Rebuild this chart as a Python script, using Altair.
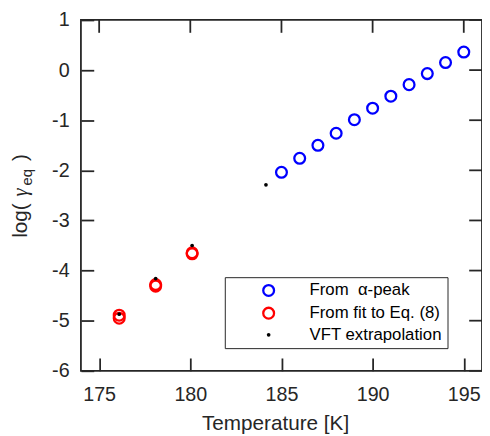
import altair as alt
import pandas as pd

# ---- data ----
alpha_T = [185, 186, 187, 188, 189, 190, 191, 192, 193, 194, 195]
alpha_logg = [-2.04, -1.76, -1.50, -1.26, -0.99, -0.76, -0.52, -0.29, -0.07, 0.15, 0.36]
fit_T = [176.1, 176.1, 178.1, 178.1, 180.1, 180.1]
fit_logg = [-4.89, -4.95, -4.28, -4.31, -3.645, -3.665]
vft_T = [176.1, 178.1, 180.1, 184.15]
vft_logg = [-4.87, -4.16, -3.50, -2.29]
series_names = ["From\u00a0 \u03b1-peak", "From fit to Eq. (8)", "VFT extrapolation"]
x_ticks = [175, 180, 185, 190, 195]
y_ticks = [-6, -5, -4, -3, -2, -1, 0, 1]

rows = []
for t, v in zip(alpha_T, alpha_logg):
    rows.append({"T": t, "g": v, "s": series_names[0]})
for t, v in zip(fit_T, fit_logg):
    rows.append({"T": t, "g": v, "s": series_names[1]})
for t, v in zip(vft_T, vft_logg):
    rows.append({"T": t, "g": v, "s": series_names[2]})
df = pd.DataFrame(rows)
xt_df = pd.DataFrame({"T": [float(v) for v in x_ticks]})
yt_df = pd.DataFrame({"g": [float(v) for v in y_ticks]})

AX = "#262626"
FONT = "Liberation Sans"
TICK = 13
LW = 1.8
W, H = 407, 356

xs = alt.Scale(domain=[174, 196], nice=False, zero=False)
ys = alt.Scale(domain=[-6, 1], nice=False, zero=False)

leg = alt.Legend(
    title=None, orient="none", legendX=146, legendY=261, direction="vertical",
    padding=5, strokeColor=AX, fillColor="white",
    labelFont=FONT, labelFontSize=17, labelColor="black", labelLimit=400,
    symbolType="circle", symbolStrokeWidth=2.3, rowPadding=2,
    symbolOffset=31, labelOffset=33,
)

x_lab = alt.Axis(values=x_ticks, orient="bottom", ticks=True, tickSize=TICK, tickColor=AX,
                 tickWidth=LW, offset=-TICK, domain=False, grid=False,
                 labelFont=FONT, labelFontSize=20, labelColor=AX, labelPadding=14,
                 title="Temperature [K]", titleFont=FONT, titleFontSize=21, titleFontWeight="normal",
                 titleColor=AX, titleX=197, titleY=60 + TICK, titleBaseline="alphabetic")
y_lab = alt.Axis(values=y_ticks, orient="left", ticks=True, tickSize=TICK, tickColor=AX,
                 tickWidth=LW, offset=-TICK, domain=False, grid=False,
                 labelFont=FONT, labelFontSize=20, labelColor=AX, labelPadding=12,
                 labelExpr="toString(datum.value)", title=None)

points = alt.Chart(df).mark_point(shape="circle", strokeWidth=2.3, opacity=1).encode(
    x=alt.X("T:Q", scale=xs, axis=x_lab),
    y=alt.Y("g:Q", scale=ys, axis=y_lab),
    stroke=alt.Stroke("s:N", scale=alt.Scale(domain=series_names, range=["#0000ff", "#ff0000", "transparent"]), legend=leg),
    fill=alt.Fill("s:N", scale=alt.Scale(domain=series_names, range=["transparent", "transparent", "#000000"]), legend=leg),
    size=alt.Size("s:N", scale=alt.Scale(type="ordinal", domain=series_names, range=[120, 120, 14]), legend=leg),
)

# top and right inward ticks drawn through the shared scales
top_ticks = alt.Chart(xt_df).mark_rule(color=AX, strokeWidth=LW).encode(
    x=alt.X("T:Q", scale=xs, axis=x_lab), y=alt.value(0), y2=alt.value(TICK))
right_ticks = alt.Chart(yt_df).mark_rule(color=AX, strokeWidth=LW).encode(
    y=alt.Y("g:Q", scale=ys, axis=y_lab), x=alt.value(W - TICK), x2=alt.value(W))

one = pd.DataFrame({"k": [0]})
def ytext(txt, x, y, size, style="normal", font=FONT):
    return alt.Chart(one).mark_text(text=txt, angle=270, align="left", baseline="middle",
                                    font=font, fontSize=size, fontStyle=style, color=AX).encode(
        x=alt.value(x), y=alt.value(y))

ylabel = [
    ytext("log(", -61, 221, 21),
    ytext("\u03b3", -61, 179, 21, "italic", "Liberation Serif"),
    ytext("eq", -55, 168, 15),
    ytext(")", -61, 143, 21),
]

chart = alt.layer(points, top_ticks, right_ticks, *ylabel).properties(
    width=W, height=H,
    autosize=alt.AutoSizeParams(type="none"),
    padding={"left": 74, "top": 9, "right": 0, "bottom": 63},
).configure_view(stroke=AX, strokeWidth=LW)

chart.save("out.html", embed_options={"renderer": "svg", "actions": False})
